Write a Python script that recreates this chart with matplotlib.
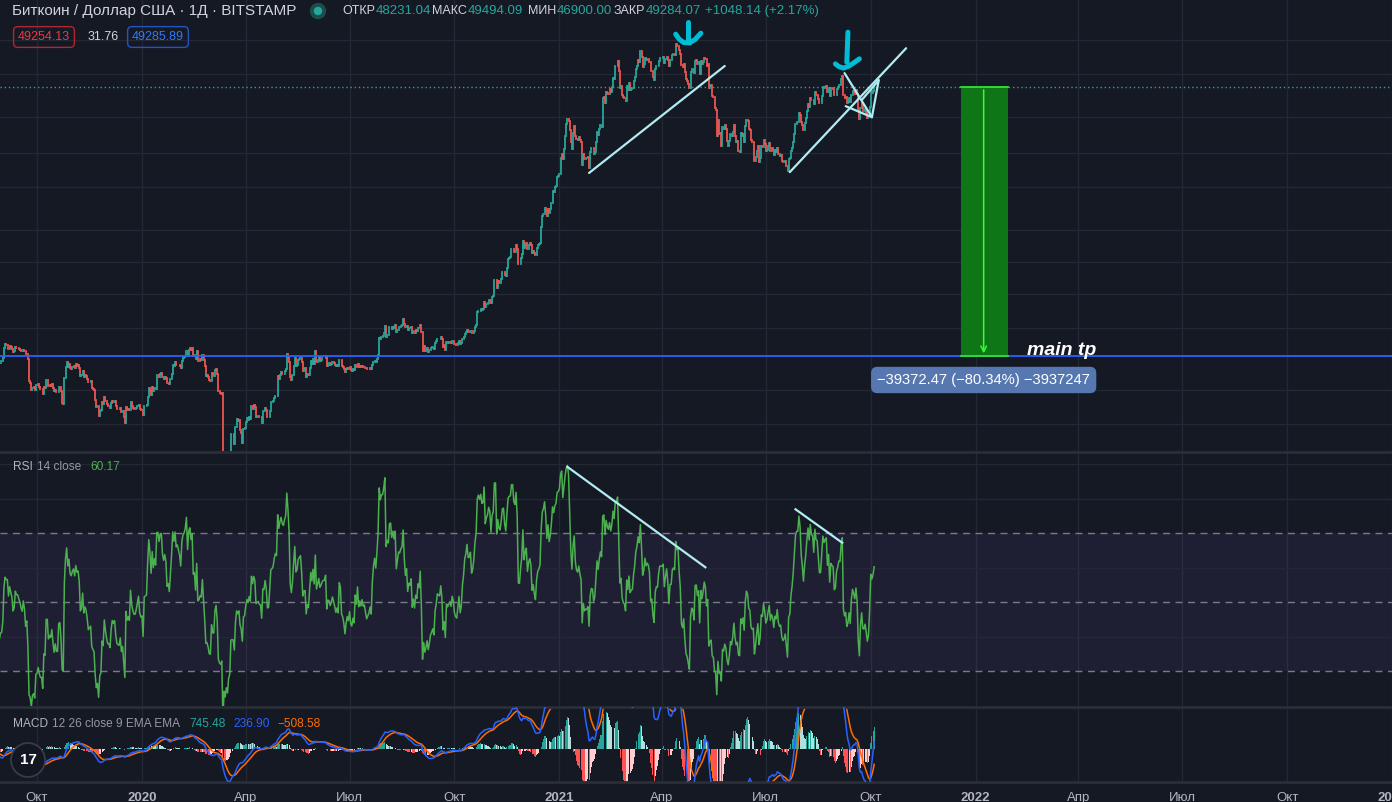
import numpy as np
import pandas as pd
import matplotlib
matplotlib.use('Agg')
import matplotlib.pyplot as plt
import matplotlib.dates as mdates
from matplotlib.patches import Rectangle, Circle

plt.rcParams['font.family'] = ['Liberation Sans', 'DejaVu Sans']

# daily closes, BITSTAMP BTC/USD (Aug 2019 - Oct 2021)
close_2019_08 = [10400, 10530, 10820, 10980, 11800, 11470, 11950, 11960, 11850, 11280, 11530, 11380, 10890, 10050, 10300, 10350,
                 10230, 10340, 10910, 10760, 10140, 10120, 10400, 10140, 10130, 10360, 10180, 9720, 9490, 9590, 9600]
close_2019_09 = [9760, 10380, 10620, 10580, 10580, 10320, 10490, 10400, 10330, 10110, 10160, 10410, 10360, 10360, 10310,
                 10270, 10200, 10160, 10270, 10180, 9980, 10030, 9700, 8530, 8430, 8060, 8180, 8200, 8050, 8300]
close_2019_10 = [8310, 8370, 8230, 8140, 8140, 7880, 8210, 8180, 8590, 8590, 8270, 8310, 8280, 8360, 8160, 8000, 8080, 7960,
                 7960, 8220, 8230, 8020, 7470, 7430, 8660, 9240, 9550, 9250, 9430, 9180, 9150]
close_2019_11 = [9250, 9300, 9200, 9410, 9320, 9340, 9210, 8770, 8810, 9040, 8730, 8820, 8770, 8640, 8460, 8480, 8500, 8170,
                 8120, 8080, 7620, 7280, 7320, 6910, 7130, 7160, 7520, 7430, 7760, 7570]
close_2019_12 = [7420, 7320, 7320, 7250, 7450, 7550, 7510, 7540, 7350, 7220, 7200, 7190, 7250, 7070, 7110, 6880, 6620, 7280,
                 7150, 7190, 7140, 7520, 7330, 7250, 7200, 7200, 7250, 7320, 7390, 7220, 7170]
close_2020_01 = [7180, 6950, 7340, 7350, 7360, 7760, 8160, 8040, 7820, 8200, 8020, 8180, 8110, 8810, 8820, 8720, 8900, 8910,
                 8700, 8630, 8730, 8660, 8390, 8430, 8340, 8600, 8900, 9390, 9290, 9510, 9350]
close_2020_02 = [9390, 9340, 9290, 9180, 9620, 9770, 9810, 9910, 10170, 9860, 10270, 10360, 10240, 10360, 9900, 9930, 9700,
                 10190, 9600, 9620, 9690, 9670, 9970, 9650, 9320, 8790, 8800, 8700, 8540]
close_2020_03 = [8530, 8920, 8760, 8760, 9070, 9150, 8900, 8040, 7940, 7900, 7940, 4970, 5560, 5170, 5360, 5030, 5330, 5420,
                 6190, 6200, 6190, 5830, 6480, 6770, 6690, 6760, 6370, 6250, 5880, 6410, 6440]
close_2020_04 = [6660, 6810, 6740, 6870, 6780, 7340, 7200, 7370, 7300, 6870, 6890, 6910, 6860, 6850, 6630, 7110, 7100, 7260,
                 7140, 6850, 6860, 7130, 7490, 7510, 7550, 7700, 7790, 7770, 8780, 8620]
close_2020_05 = [8830, 8970, 8900, 8880, 9030, 9150, 9990, 9810, 9540, 8730, 8560, 8810, 9310, 9790, 9310, 9380, 9670, 9730,
                 9780, 9510, 9060, 9170, 9180, 8720, 8900, 8840, 9200, 9580, 9430, 9700, 9450]
close_2020_06 = [10200, 9520, 9660, 9800, 9620, 9670, 9750, 9780, 9780, 9880, 9320, 9480, 9470, 9390, 9440, 9520, 9460, 9390,
                 9310, 9360, 9300, 9680, 9630, 9290, 9250, 9160, 9010, 9120, 9190, 9140]
close_2020_07 = [9230, 9090, 9060, 9130, 9080, 9340, 9250, 9430, 9230, 9290, 9240, 9300, 9240, 9250, 9190, 9130, 9150, 9170,
                 9210, 9160, 9390, 9530, 9610, 9550, 9700, 9930, 11030, 10930, 11100, 11110, 11350]
close_2020_08 = [11800, 11070, 11230, 11200, 11750, 11770, 11600, 11770, 11680, 11880, 11400, 11580, 11780, 11770, 11860,
                 11900, 12300, 11960, 11730, 11860, 11530, 11680, 11650, 11760, 11340, 11470, 11330, 11530, 11480, 11710, 11660]
close_2020_09 = [11930, 11400, 10180, 10470, 10180, 10260, 10370, 10130, 10230, 10360, 10400, 10450, 10330, 10680, 10790,
                 10960, 10940, 10930, 11080, 10920, 10420, 10530, 10240, 10740, 10690, 10730, 10770, 10700, 10840, 10780]
close_2020_10 = [10620, 10570, 10550, 10670, 10790, 10600, 10670, 10920, 11060, 11300, 11380, 11540, 11420, 11430, 11500,
                 11320, 11370, 11500, 11750, 11920, 12820, 12970, 12930, 13120, 13040, 13070, 13650, 13280, 13460, 13560, 13800]
close_2020_11 = [13760, 13550, 14030, 14150, 15590, 15590, 14840, 15480, 15330, 15300, 15700, 16280, 16320, 16070, 15960,
                 16720, 17660, 17800, 17820, 18680, 18690, 18420, 18370, 19160, 18740, 17150, 17140, 17720, 18180, 19700]
close_2020_12 = [18790, 19220, 19450, 18700, 19150, 19360, 19170, 18320, 18550, 18250, 18040, 18800, 19170, 19270, 19440,
                 21380, 22840, 23140, 23870, 23480, 22750, 23830, 23250, 23720, 24700, 26490, 26280, 27080, 27360, 28840, 29000]
close_2021_01 = [29390, 32200, 33000, 31990, 33990, 36820, 39490, 40670, 40240, 38240, 35540, 34010, 37390, 39150, 36830,
                 36030, 35830, 36630, 35910, 35470, 30850, 33000, 32100, 32290, 32270, 32520, 30430, 33470, 34320, 34270, 33110]
close_2021_02 = [33520, 35500, 37660, 36950, 38290, 39260, 38900, 46200, 46480, 44840, 47970, 47460, 47210, 48590, 47940,
                 49170, 52170, 51590, 55950, 55920, 57490, 54090, 48890, 49680, 47080, 46340, 46180, 45240]
close_2021_03 = [49620, 48380, 50540, 48370, 48760, 48880, 50970, 52390, 54880, 55860, 57800, 57250, 61190, 58970, 55640,
                 56470, 58750, 57850, 58330, 58110, 57350, 54090, 54340, 52300, 51320, 55030, 55820, 55780, 57630, 58730, 58740]
close_2021_04 = [58720, 58980, 57060, 58200, 59130, 58060, 56000, 58090, 58090, 59780, 60000, 59860, 63580, 62960, 63160,
                 61330, 60010, 56150, 55630, 56470, 53800, 51700, 51190, 50090, 49080, 54020, 55030, 54820, 53560, 57750]
close_2021_05 = [57830, 56630, 57210, 53240, 57500, 56400, 57350, 58800, 58230, 55860, 56700, 49150, 49720, 49880, 46760,
                 46450, 43540, 42900, 36700, 40600, 37300, 37450, 34700, 38800, 38400, 39300, 38440, 35700, 34600, 35650, 37300]
close_2021_06 = [36690, 37570, 39190, 36850, 35520, 35800, 33560, 33400, 37390, 36690, 37340, 35550, 39100, 40520, 40140,
                 38350, 38090, 35820, 35480, 35600, 31680, 32510, 33680, 34660, 31590, 32280, 34700, 34500, 35910, 35040]
close_2021_07 = [33570, 33890, 34670, 35290, 33700, 34220, 33860, 32880, 33800, 33520, 34260, 33090, 32730, 32820, 31780,
                 31420, 31520, 31780, 30840, 29790, 32110, 32290, 33580, 34290, 35400, 37270, 39460, 40020, 40020, 42220, 41630]
close_2021_08 = [39970, 39200, 38150, 39740, 40870, 42840, 44610, 43820, 46290, 45590, 45550, 44430, 47830, 47100, 47020,
                 45940, 44690, 44740, 46760, 49340, 48900, 49320, 49550, 47710, 48990, 46850, 49070, 48900, 48800, 46990, 47130]
close_2021_09 = [48840, 49270, 49940, 49920, 51750, 52660, 46860, 46070, 46390, 44850, 45150, 46030, 44940, 47110, 48140,
                 47760, 47300, 48310, 47250, 43010, 40710, 43570, 44890, 42840, 42720, 43200, 42240, 41030, 41520, 43790]
close_2021_10 = [48140, 47660, 48231.04, 49284.07]

# drawings on the chart (date, price) / (date, rsi)
trend_lines = [
    [('2021-01-27', 29500), ('2021-05-26', 55900)],
    [('2021-07-22', 29650), ('2021-11-01', 62150)],
    [('2021-09-08', 53560), ('2021-10-02', 41170)],
    [('2021-09-09', 43970), ('2021-10-02', 41170)],
    [('2021-10-02', 41170), ('2021-10-08', 51340)],
    [('2021-09-23', 45580), ('2021-10-08', 51340)],
]
rsi_lines = [
    [('2021-01-08', 89.2), ('2021-05-09', 60.1)],
    [('2021-07-27', 76.9), ('2021-09-06', 67.2)],
]
brush_strokes = [
    [('2021-04-24', 72580), ('2021-04-24', 65220)],
    [('2021-04-13', 67600), ('2021-04-16', 65600), ('2021-04-20', 64300), ('2021-04-25', 64100),
     ('2021-04-30', 65500), ('2021-05-05', 68000)],
    [('2021-09-11', 68400), ('2021-09-10', 57150)],
    [('2021-08-31', 56600), ('2021-09-03', 55700), ('2021-09-07', 55200), ('2021-09-11', 55700),
     ('2021-09-16', 56900), ('2021-09-21', 58330)],
]
range_dates = ['2021-12-19', '2022-01-08', '2022-01-29']
range_prices = [49254.13, 9881.66]
last_price = 49284.07
grid_prices = [6600, 8050, 11700, 14350, 17350, 21000, 27200, 33150, 41200, 53200, 65200]

tick_dates = ['2019-10-01', '2020-01-01', '2020-04-01', '2020-07-01', '2020-10-01', '2021-01-01', '2021-04-01',
              '2021-07-01', '2021-10-01', '2022-01-01', '2022-04-01', '2022-07-01', '2022-10-01', '2023-01-01']
tick_labels = ['Окт', '2020', 'Апр', 'Июл', 'Окт', '2021', 'Апр', 'Июл', 'Окт', '2022', 'Апр', 'Июл', 'Окт', '2023']

BG = '#151924'
GRID = '#242834'
UP, DOWN = '#26a69a', '#ef5350'
LINE = '#b2ebf2'
W, H = 1392, 802


def d2n(d):
    return mdates.date2num(np.datetime64(d))


def fx(x):
    return x / W


def fy(y):
    return 1 - y / H


close = np.array(close_2019_08 + close_2019_09 + close_2019_10 + close_2019_11 + close_2019_12 + close_2020_01 +
                 close_2020_02 + close_2020_03 + close_2020_04 + close_2020_05 + close_2020_06 + close_2020_07 +
                 close_2020_08 + close_2020_09 + close_2020_10 + close_2020_11 + close_2020_12 + close_2021_01 +
                 close_2021_02 + close_2021_03 + close_2021_04 + close_2021_05 + close_2021_06 + close_2021_07 +
                 close_2021_08 + close_2021_09 + close_2021_10, dtype=float)
dates = pd.date_range('2019-08-01', periods=len(close), freq='D')
xs = mdates.date2num(dates)
opens = np.r_[close[0], close[:-1]]

# indicators
s = pd.Series(close)
delta = s.diff()
gain = delta.clip(lower=0).ewm(alpha=1 / 14, adjust=False).mean()
loss = (-delta.clip(upper=0)).ewm(alpha=1 / 14, adjust=False).mean()
rsi = 100 - 100 / (1 + gain / loss)
macd = s.ewm(span=12, adjust=False).mean() - s.ewm(span=26, adjust=False).mean()
signal = macd.ewm(span=9, adjust=False).mean()
hist = (macd - signal).values
prev = np.r_[hist[0], hist[:-1]]
hcol = np.where(hist >= 0, np.where(hist > prev, '#26a69a', '#b2dfdb'),
                np.where(hist > prev, '#ffcdd2', '#ff5252'))

xlim = (d2n('2020-01-01') - 142 / 1.141, d2n('2020-01-01') + (W - 142) / 1.141)
ticks = [d2n(t) for t in tick_dates]

fig = plt.figure(figsize=(W / 100, H / 100), dpi=100, facecolor=BG)
ax = fig.add_axes([0, fy(451), 1, 451 / H], facecolor=BG)
ax_rsi = fig.add_axes([0, fy(706), 1, 254 / H], facecolor=BG)
ax_macd = fig.add_axes([0, fy(782), 1, 75 / H], facecolor=BG)

for a in (ax, ax_rsi, ax_macd):
    a.set_xlim(*xlim)
    a.set_xticks(ticks)
    for t in ticks:
        a.axvline(t, color=GRID, lw=1, zorder=0)
    for sp in a.spines.values():
        sp.set_visible(False)
    a.tick_params(length=0, labelleft=False, labelbottom=False)
    a.set_yticks([])
for a in (ax_rsi, ax_macd):
    a.spines['top'].set_visible(True)
    a.spines['top'].set_color('#2a2e39')
    a.spines['top'].set_linewidth(2)
ax_macd.spines['bottom'].set_visible(True)
ax_macd.spines['bottom'].set_color('#2a2e39')
ax_macd.spines['bottom'].set_linewidth(2)

# price pane
ax.set_yscale('log')
ax.set_ylim(5604, 82900)
ax.set_yticks([])
ax.minorticks_off()
for g in grid_prices:
    ax.axhline(g, color=GRID, lw=1, zorder=0)
cols = np.where(close >= opens, UP, DOWN)
ax.vlines(xs, np.minimum(opens, close), np.maximum(opens, close), colors=cols, lw=1.3, capstyle='projecting', zorder=2)
ax.axhline(last_price, color='#26a69a', lw=1, ls=(0, (1, 2)), zorder=1)
ax.axhline(range_prices[1], color='#2962ff', lw=1.3, zorder=3)

for ln in trend_lines:
    ax.plot([d2n(d) for d, _ in ln], [p for _, p in ln], color=LINE, lw=1.6, solid_capstyle='round', zorder=4)
for ln in brush_strokes:
    ax.plot([d2n(d) for d, _ in ln], [p for _, p in ln], color='#00bcd4', lw=3.6,
            solid_capstyle='round', solid_joinstyle='round', zorder=5)

x0, xc, x1 = [d2n(d) for d in range_dates]
ax.add_patch(Rectangle((x0, range_prices[1]), x1 - x0, range_prices[0] - range_prices[1],
                       facecolor='#0e7616', edgecolor='none', zorder=3))
for p in range_prices:
    ax.plot([x0, x1], [p, p], color='#2ee62e', lw=1.3, zorder=4)
ax.annotate('', xy=(xc, range_prices[1]), xytext=(xc, range_prices[0]),
            arrowprops=dict(arrowstyle='->', color='#33ff33', lw=1.1, mutation_scale=10), zorder=5)
ax.text(xc, 8565, '\u221239372.47 (\u221280.34%) \u22123937247', color='white', fontsize=10.6, ha='center', va='center',
        bbox=dict(boxstyle='round,pad=0.42', fc='#5677b0', ec='none'), zorder=6)
ax.text(d2n('2022-02-15'), 9950, 'main tp', color='white', fontsize=14, fontweight='bold', fontstyle='italic',
        ha='left', va='baseline', zorder=6)

# RSI pane
ax_rsi.set_ylim(19.9, 93.5)
ax_rsi.axhspan(30, 70, color='#7e57c2', alpha=0.1, lw=0, zorder=0)
for g in (40, 60, 80, 90):
    ax_rsi.axhline(g, color=GRID, lw=1, zorder=0)
for g in (30, 50, 70):
    ax_rsi.axhline(g, color='#787b86', lw=1, ls=(0, (5, 4)), zorder=1)
ax_rsi.plot(xs, rsi, color='#4caf50', lw=1.1, zorder=2)
for ln in rsi_lines:
    ax_rsi.plot([d2n(d) for d, _ in ln], [v for _, v in ln], color=LINE, lw=1.6, zorder=3)

# MACD pane
ax_macd.set_ylim(-1090, 1390)
ax_macd.bar(xs, hist, width=0.85, color=hcol, zorder=1)
ax_macd.plot(xs, signal, color='#ff6d00', lw=1.1, zorder=2)
ax_macd.plot(xs, macd, color='#2962ff', lw=1.1, zorder=3)
ax_macd.tick_params(labelbottom=True, pad=7, colors='#b2b5be', labelsize=9.5)
ax_macd.set_xticklabels(tick_labels)
for lab, txt in zip(ax_macd.get_xticklabels(), tick_labels):
    if txt.isdigit():
        lab.set_fontweight('bold')

# header
fig.text(fx(12), fy(11), 'Биткоин / Доллар США · 1Д · BITSTAMP', color='#d1d4dc', fontsize=11, va='center')
fig.add_artist(Circle((318 / 100, (H - 11) / 100), 0.075, transform=fig.dpi_scale_trans, color='#1b4d4b'))
fig.add_artist(Circle((318 / 100, (H - 11) / 100), 0.035, transform=fig.dpi_scale_trans, color='#26a69a'))
for xv, lab, val in [(376, 'ОТКР', '48231.04'), (468, 'МАКС', '49494.09'), (557, 'МИН', '46900.00'),
                     (646, 'ЗАКР', '49284.07')]:
    fig.text(fx(xv - 1), fy(11), lab, color='#d1d4dc', fontsize=9, ha='right', va='center')
    fig.text(fx(xv), fy(11), val, color=UP, fontsize=9.5, va='center')
fig.text(fx(705), fy(11), '+1048.14 (+2.17%)', color=UP, fontsize=9.5, va='center')
fig.text(fx(44), fy(37), '49254.13', color='#f23645', fontsize=9, ha='center', va='center',
         bbox=dict(boxstyle='round,pad=0.35', fc='none', ec='#b2262f', lw=1))
fig.text(fx(103), fy(37), '31.76', color='#d1d4dc', fontsize=9, ha='center', va='center')
fig.text(fx(158), fy(37), '49285.89', color='#3179f5', fontsize=9, ha='center', va='center',
         bbox=dict(boxstyle='round,pad=0.35', fc='none', ec='#2453c8', lw=1))

for xp, txt, c in [(13, 'RSI', '#b2b5be'), (37, '14 close', '#9598a1'), (90, '60.17', '#4caf50')]:
    fig.text(fx(xp), fy(467), txt, color=c, fontsize=8.6, va='center')
for xp, txt, c in [(13, 'MACD', '#b2b5be'), (52, '12 26 close 9 EMA EMA', '#9598a1'), (189, '745.48', '#26a69a'),
                   (233, '236.90', '#2962ff'), (277, '\u2212508.58', '#ff6d00')]:
    fig.text(fx(xp), fy(724), txt, color=c, fontsize=8.6, va='center')

# logo
fig.add_artist(Circle((28 / 100, (H - 760) / 100), 0.17, transform=fig.dpi_scale_trans,
                      facecolor='#131722', edgecolor='#3a3e4a', lw=1.2))
fig.text(fx(28), fy(760), '17', color='white', fontsize=11, fontweight='bold', ha='center', va='center')

fig.savefig('out.png', dpi=100, facecolor=BG)
